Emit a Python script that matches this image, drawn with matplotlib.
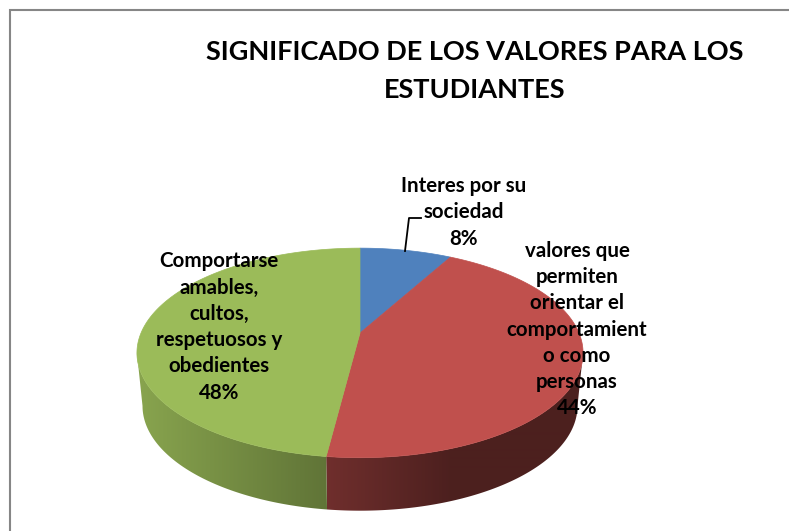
import numpy as np
import matplotlib
matplotlib.use("Agg")
import matplotlib.pyplot as plt
from matplotlib.patches import Polygon

plt.rcParams['font.family'] = ['Lato', 'DejaVu Sans']

title = "SIGNIFICADO DE LOS VALORES PARA LOS\nESTUDIANTES"
categories = ["Interes por su\nsociedad",
              "valores que\npermiten\norientar el\ncomportamient\no como\npersonas",
              "Comportarse\namables,\ncultos,\nrespetuosos y\nobedientes"]
values = [8, 44, 48]
colors = ["#4f81bd", "#c0504d", "#9bbb59"]
label_x = [464, 577, 219]
label_y = [212.5, 329.5, 327]

# pie geometry in pixels (3d look with a small perspective)
cx, cy = 360, 333
rx, ry = 219, 101
persp = 0.19
depth = 53
shrink = 0.975

# how dark the side gets, by pixel x
shade_x = [[137, 583], [328, 450, 583], [137, 328]]
shade_f = [[0.6, 0.6], [0.58, 0.40, 0.40], [0.88, 0.62]]


def rim(theta, lower=False):
    u, v = np.sin(theta), np.cos(theta)
    w = 1 + persp * v
    if lower:
        return cx + shrink * rx * u / w, cy - ry * v / w + depth
    return cx + rx * u / w, cy - ry * v / w


fig = plt.figure(figsize=(7.89, 5.31), dpi=100)
ax = fig.add_axes([0, 0, 1, 1])
ax.set_xlim(0, 789)
ax.set_ylim(531, 0)
ax.axis("off")

# chart frame, only top and left are in the crop
ax.plot([10.5, 10.5, 789], [531, 10, 10], color="#868686", lw=1.5, solid_joinstyle="miter")

edges = np.cumsum([0] + values) / sum(values) * 2 * np.pi

# side of the pie, a horizontal gradient clipped to the visible front of each slice
px = np.arange(789) + 0.5
front_a = np.arccos(-persp)
front_b = 2 * np.pi - front_a
for i in range(len(values)):
    a = max(edges[i], front_a)
    b = min(edges[i + 1], front_b)
    if a >= b:
        continue
    th = np.linspace(a, b, 200)
    xu, yu = rim(th)
    xl, yl = rim(th, True)
    base = np.array(matplotlib.colors.to_rgb(colors[i]))
    grad = np.interp(px, shade_x[i], shade_f[i])[None, :, None] * base
    im = ax.imshow(grad, extent=(0, 789, 531, 0), aspect="auto", interpolation="bilinear", zorder=1)
    side = Polygon(np.c_[np.r_[xu, xl[::-1]], np.r_[yu, yl[::-1]]], transform=ax.transData)
    im.set_clip_path(side)
ax.set_xlim(0, 789)
ax.set_ylim(531, 0)

# top of the pie
for i in range(len(values)):
    th = np.linspace(edges[i], edges[i + 1], 200)
    xs, ys = rim(th)
    ax.fill(np.r_[cx, xs], np.r_[cy, ys], facecolor=colors[i], edgecolor=colors[i], lw=0.5, zorder=2)

# leader line of the small slice
ax.plot([405, 409, 421], [251, 218, 218], color="black", lw=1.3, zorder=3)

for i in range(len(values)):
    ax.text(label_x[i], label_y[i], f"{categories[i]}\n{values[i]}%", ha="center", va="center",
            fontsize=14.8, fontweight="bold", color="black", linespacing=1.39, zorder=4)

ax.text(475, 71, title, ha="center", va="center", fontsize=19.5, fontweight="bold",
        color="black", linespacing=1.7, zorder=4)

fig.savefig("out.png", dpi=100)
